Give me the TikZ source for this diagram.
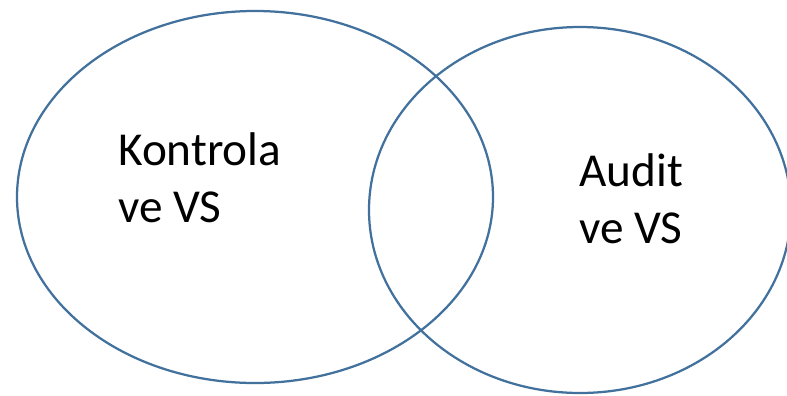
\documentclass[tikz,border=0pt]{standalone}
\usepackage{fontspec}
\setmainfont{Carlito}
\definecolor{vennblue}{RGB}{65,113,156}
\tikzset{
  vennline/.style={draw=vennblue, line width=1.6pt},
  venntext/.style={anchor=north west, inner sep=0pt, align=left,
    font=\fontsize{33.6}{40.5}\selectfont}
}
\begin{document}
\begin{tikzpicture}[x=0.025cm, y=-0.025cm]
  \useasboundingbox (0,0) rectangle (787,395);
  \draw[vennline] (255,197) ellipse [x radius=238, y radius=186];
  \draw[vennline] (580,210) ellipse [x radius=211, y radius=183];
  \node[venntext] (kontrola) at (118,132) {Kontrola\\ve VS};
  \node[venntext] (audit) at (579,153) {Audit\\ve VS};
\end{tikzpicture}
\end{document}
